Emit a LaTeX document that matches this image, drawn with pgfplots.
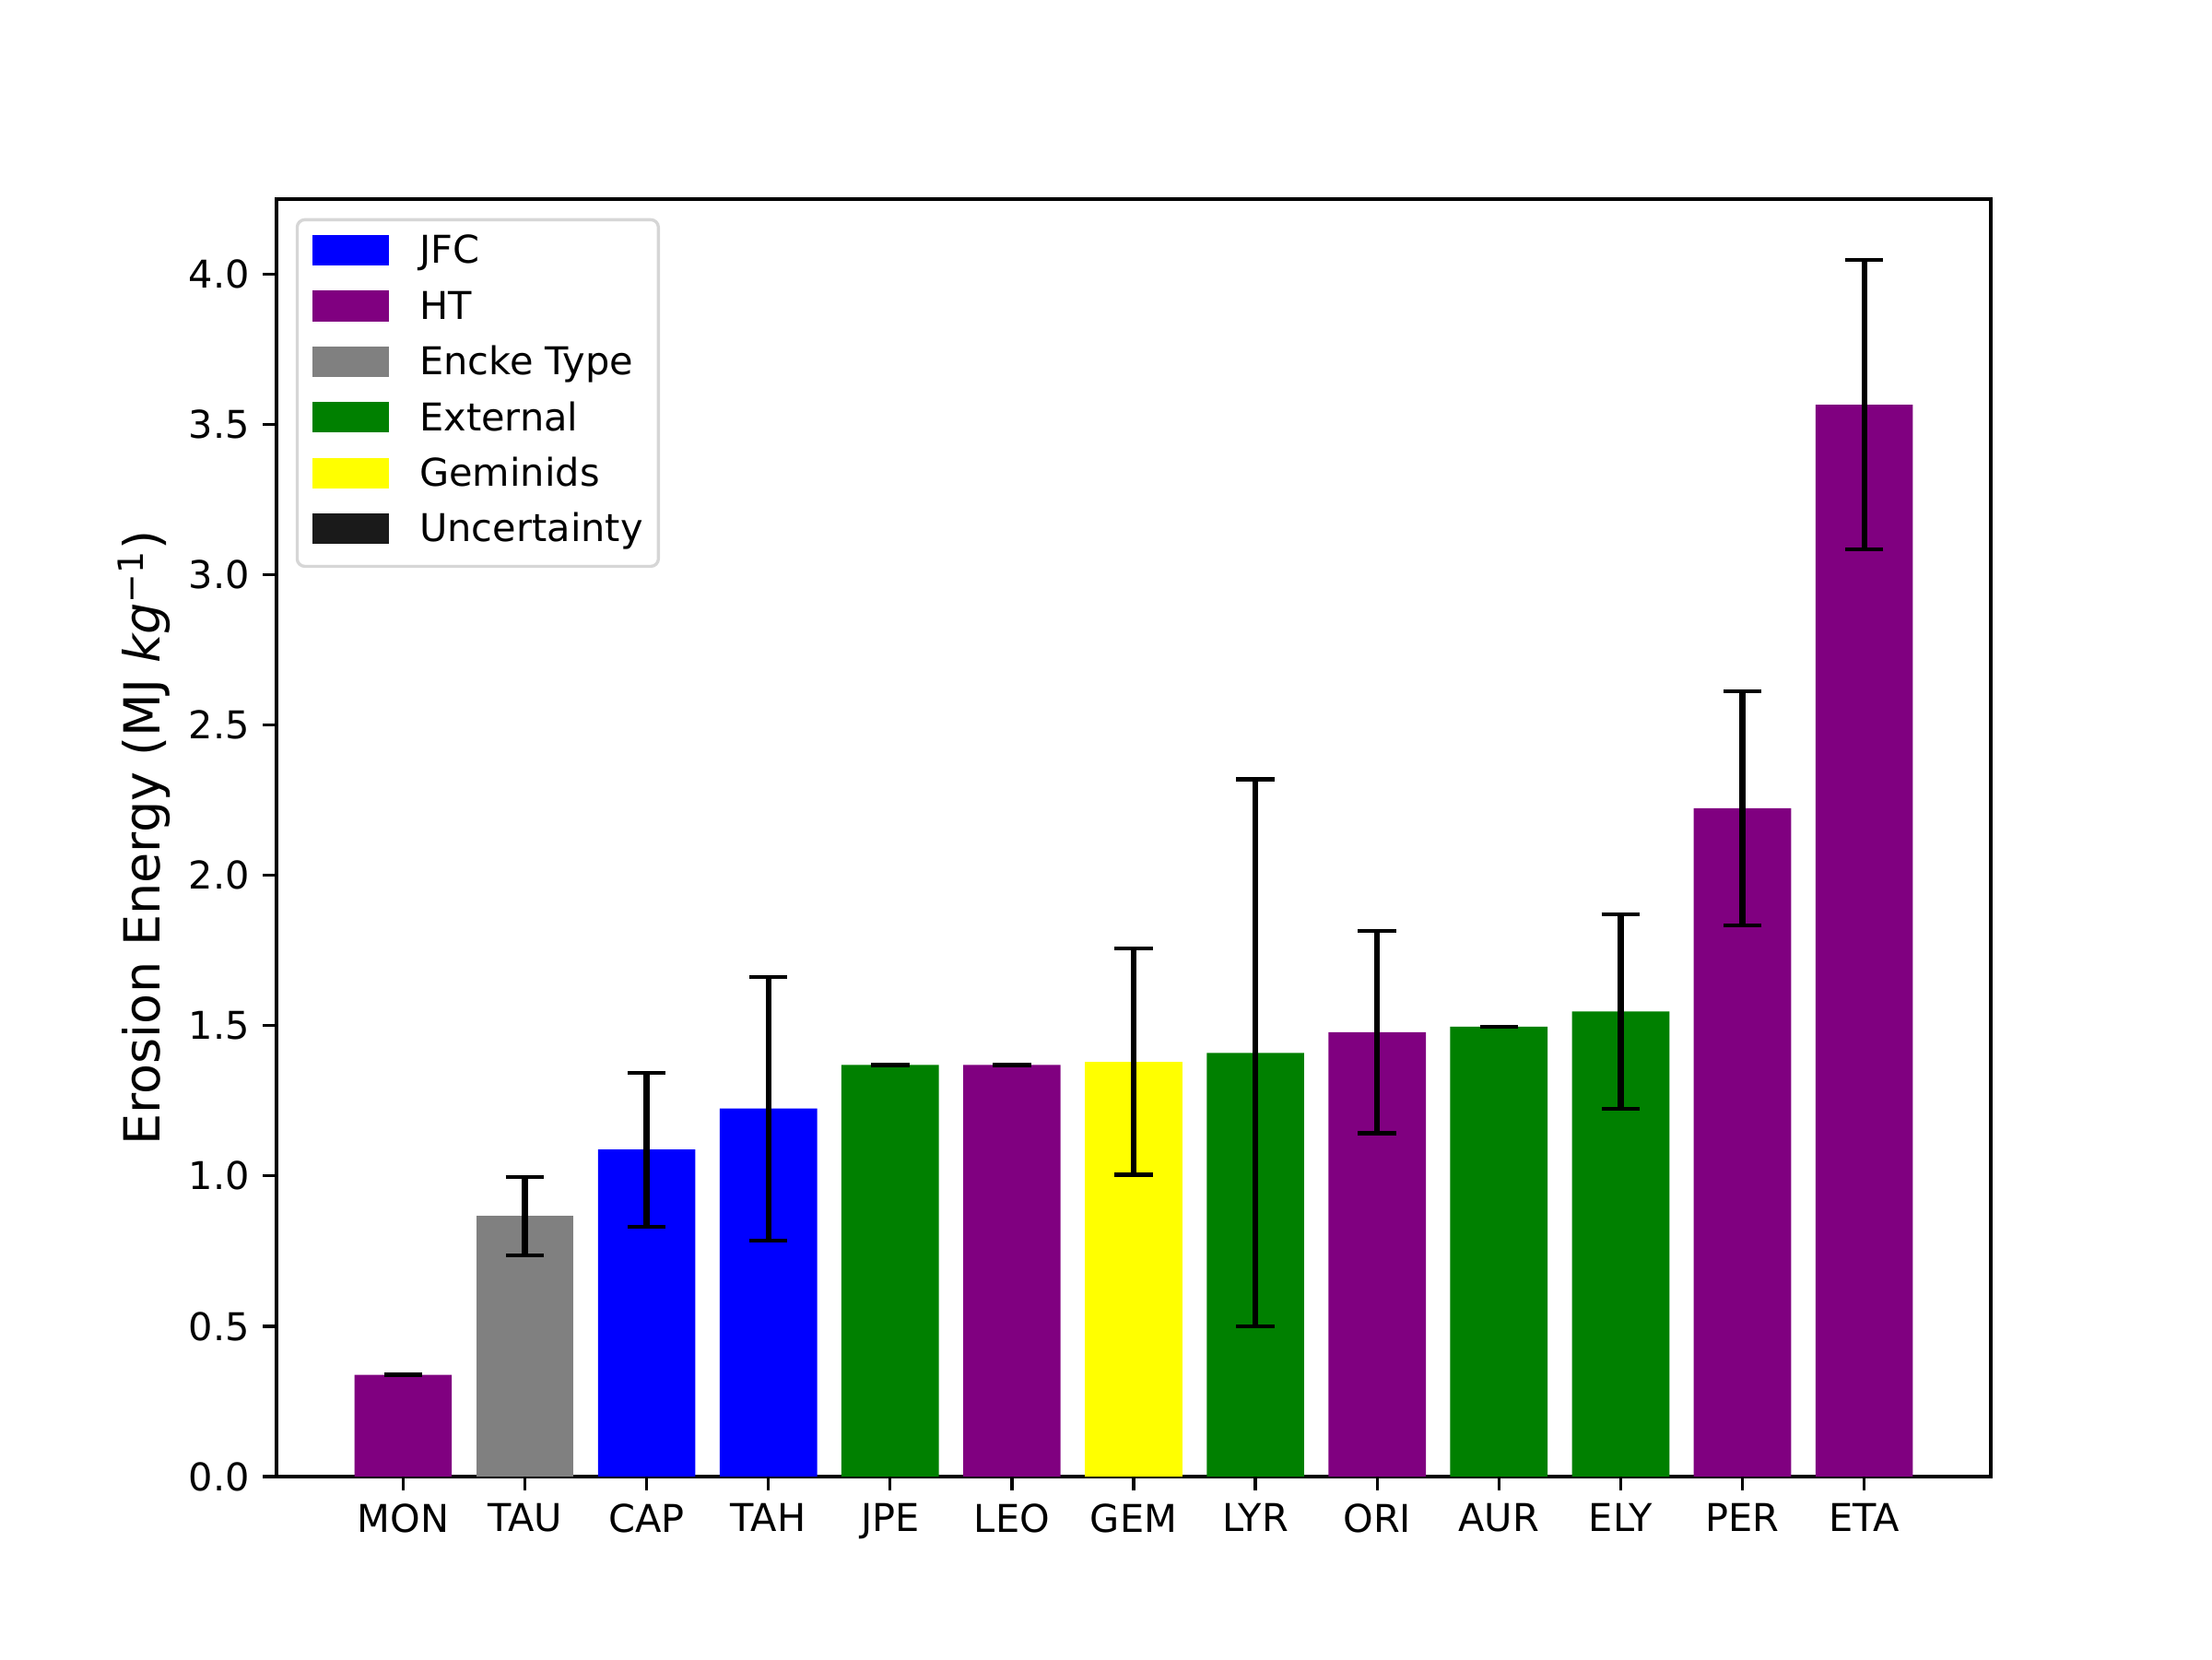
\documentclass[border=0pt]{standalone}
\usepackage{fontspec}
\setmainfont{DejaVu Sans}
\usepackage{pgfplots}
\pgfplotsset{compat=1.18}
\usepackage{pgfplotstable}
\definecolor{mplpurple}{RGB}{128,0,128}
\definecolor{mplgreen}{RGB}{0,128,0}
\definecolor{mplgray}{RGB}{128,128,128}
\definecolor{mplyellow}{RGB}{255,255,0}
\definecolor{mplblue}{RGB}{0,0,255}
\definecolor{unc}{RGB}{26,26,26}

\pgfplotstableread{
x y e
0 0.338 0.001
1 0.867 0.130
2 1.088 0.256
3 1.224 0.438
4 1.369 0.001
5 1.369 0.001
6 1.380 0.376
7 1.409 0.910
8 1.478 0.336
9 1.496 0.001
10 1.547 0.324
11 2.223 0.389
12 3.565 0.482
}\errtable

\pgfplotsset{myarea/.style={legend image code/.code={\path[sharp corners, draw=none, ##1] (0pt,-3pt) rectangle (20pt,5pt);}}}

\begin{document}
\begin{tikzpicture}
\path[use as bounding box] (-72.27pt,-47.70pt) rectangle (505.89pt,385.92pt);
\begin{axis}[
  at={(0,0)}, anchor=south west,
  scale only axis,
  width=448.07pt, height=333.89pt,
  xmin=-1.04, xmax=13.04,
  ymin=0, ymax=4.249,
  axis line style={line width=0.8pt},
  tick style={line width=0.8pt, black},
  tick align=outside,
  major tick length=3.5pt,
  tick pos=left,
  xtick={0,...,12},
  xticklabels={MON,TAU,CAP,TAH,JPE,LEO,GEM,LYR,ORI,AUR,ELY,PER,ETA},
  ytick={0,0.5,...,4.0},
  yticklabel style={/pgf/number format/.cd, fixed, fixed zerofill, precision=1},
  /pgf/number format/assume math mode=true,
  ticklabel style={font=\fontsize{10}{12}\selectfont},
  ylabel={Erosion Energy (MJ \textit{kg}\textsuperscript{−1})},
  ylabel style={font=\fontsize{13}{15}\selectfont},
  ylabel shift=-2.1pt,
  ybar, bar width=0.8, bar shift=0pt,
  legend cell align=left,
  legend style={at={(0,1)}, anchor=north west, xshift=5pt, yshift=-5pt,
    draw=black!16, line width=0.8pt, fill=white, rounded corners=2pt,
    inner xsep=4pt, inner ysep=4pt, row sep=4.7pt,
    font=\fontsize{10}{12}\selectfont,
    nodes={inner sep=0pt, text height=7.3pt, text depth=2.4pt},
    /tikz/every odd column/.append style={column sep=8pt}},
]
\addplot[fill=mplpurple, draw=none, forget plot] coordinates {(0,0.338) (5,1.369) (8,1.478) (11,2.223) (12,3.565)};
\addplot[fill=mplgray, draw=none, forget plot] coordinates {(1,0.867)};
\addplot[fill=mplblue, draw=none, forget plot] coordinates {(2,1.088) (3,1.224)};
\addplot[fill=mplgreen, draw=none, forget plot] coordinates {(4,1.369) (7,1.409) (9,1.496) (10,1.547)};
\addplot[fill=mplyellow, draw=none, forget plot] coordinates {(6,1.380)};
\addplot[forget plot, draw=none, fill=none, mark=none, sharp plot,
  error bars/.cd, y dir=both, y explicit,
  error bar style={draw=black, line width=1.5pt},
  error mark options={draw=black, rotate=90, mark size=5pt, line width=1pt}]
  table[x=x, y=y, y error=e] {\errtable};
\addlegendimage{myarea, fill=mplblue}
\addlegendentry{JFC}
\addlegendimage{myarea, fill=mplpurple}
\addlegendentry{HT}
\addlegendimage{myarea, fill=mplgray}
\addlegendentry{Encke Type}
\addlegendimage{myarea, fill=mplgreen}
\addlegendentry{External}
\addlegendimage{myarea, fill=mplyellow}
\addlegendentry{Geminids}
\addlegendimage{myarea, fill=unc, draw=black, line width=1pt}
\addlegendentry{Uncertainty}
\end{axis}
\end{tikzpicture}
\end{document}
